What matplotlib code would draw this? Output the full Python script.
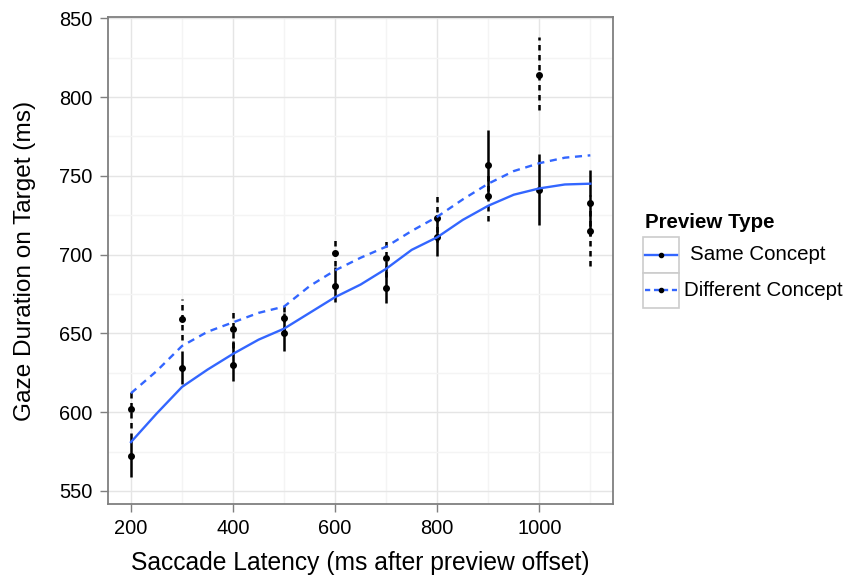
import numpy as np
import matplotlib.pyplot as plt
from matplotlib.lines import Line2D
from matplotlib.patches import Rectangle

plt.rcParams['font.family'] = ['Liberation Sans', 'DejaVu Sans']

# saccade latency bins (ms)
latency = [200, 300, 400, 500, 600, 700, 800, 900, 1000, 1100]

# same concept: mean gaze duration and interval limits
same_mean = [572, 628, 630, 650, 680, 679, 711, 757, 741, 733]
same_low = [559, 618, 620, 639, 670, 669, 699, 736, 719, 712]
same_high = [587, 639, 645, 663, 692, 693, 725, 779, 764, 754]

# different concept
diff_mean = [602, 659, 653, 660, 701, 698, 723, 737, 814, 715]
diff_low = [590, 646, 641, 651, 693, 686, 708, 721, 792, 693]
diff_high = [613, 672, 665, 669, 709, 710, 739, 753, 838, 738]

# smoothed trend lines every 50 ms
smooth_x = [200, 250, 300, 350, 400, 450, 500, 550, 600, 650,
            700, 750, 800, 850, 900, 950, 1000, 1050, 1100]
same_smooth = [581, 599, 616, 627, 637, 646, 653, 663, 673, 681,
               691, 703, 711, 722, 731, 738, 742, 744.5, 745]
diff_smooth = [612, 626, 642, 651, 657, 663, 667, 680, 690, 698,
               705, 715, 724, 735, 745, 753, 758, 761.5, 763]

BLUE = '#3366FF'
GREY50 = '#7F7F7F'

fig = plt.figure(figsize=(8.47, 5.77), dpi=100)
ax = fig.add_axes([108 / 847, 1 - 504 / 577, 505.3 / 847, 486.7 / 577])

# grid like theme_bw
ax.set_xticks([300, 500, 700, 900, 1100], minor=True)
ax.set_yticks(np.arange(575, 850, 50), minor=True)
ax.grid(True, which='major', color='#E5E5E5', lw=1.0)
ax.grid(True, which='minor', color='#F4F4F4', lw=1.0)
ax.set_axisbelow(True)

# error bars
ax.vlines(latency, same_low, same_high, color='black', lw=1.8, zorder=3)
ax.vlines(latency, diff_low, diff_high, color='black', lw=1.8,
          linestyles=(0, (2.2, 1.8)), zorder=3)

# means
ax.plot(latency, same_mean, 'o', color='black', ms=4.0, zorder=4)
ax.plot(latency, diff_mean, 'o', color='black', ms=4.0, zorder=4)

# smooth trend lines
ax.plot(smooth_x, same_smooth, color=BLUE, lw=1.7, zorder=5)
ax.plot(smooth_x, diff_smooth, color=BLUE, lw=1.7, ls=(0, (3.0, 2.4)), zorder=5)

ax.set_xlim(155, 1145)
ax.set_ylim(541.7, 850.6)
ax.set_xticks([200, 400, 600, 800, 1000])
ax.set_yticks(np.arange(550, 851, 50))

for s in ax.spines.values():
    s.set_color(GREY50)
    s.set_linewidth(1.3)
ax.tick_params(which='major', direction='out', length=6, width=1,
               color=GREY50, labelsize=14.4, pad=5)
ax.tick_params(which='minor', length=0)

ax.set_xlabel('Saccade Latency (ms after preview offset)', fontsize=17.7)
ax.set_ylabel('Gaze Duration on Target (ms)', fontsize=17.6)
ax.xaxis.set_label_coords(0.5, -0.121)
ax.xaxis.label.set_va('center')
ax.yaxis.set_label_coords(-0.164, 0.5)
ax.yaxis.label.set_va('center')

# legend drawn by hand to mimic ggplot keys
W, H = 847, 577
fig.text(645 / W, 1 - 228 / H, 'Preview Type', fontsize=14.8, fontweight='bold',
         ha='left', va='baseline')
keys = [('Same Concept', '-', 255, 690), ('Different Concept', (0, (2.2, 1.6)), 290, 684)]
for label, ls, yc, tx in keys:
    fig.add_artist(Rectangle((643 / W, 1 - (yc + 17.5) / H), 36 / W, 35 / H,
                             transform=fig.transFigure, facecolor='white',
                             edgecolor='#CCCCCC', lw=1.2))
    fig.add_artist(Line2D([645 / W, 677 / W], [1 - yc / H, 1 - yc / H],
                          transform=fig.transFigure, color=BLUE, lw=1.7, ls=ls))
    fig.add_artist(Line2D([661 / W], [1 - yc / H], transform=fig.transFigure,
                          marker='o', color='black', ms=3))
    fig.text(tx / W, 1 - yc / H, label, fontsize=14.8, ha='left', va='center')

fig.savefig('out.png', dpi=100)
